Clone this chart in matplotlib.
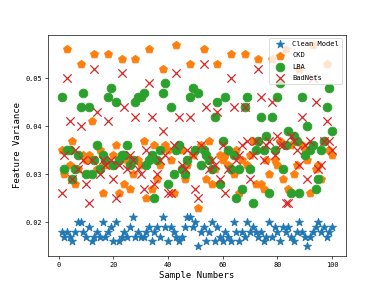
import numpy as np
import matplotlib
matplotlib.use("Agg")
import matplotlib.pyplot as plt

# sample index 1..100
samples = list(range(1, 101))

clean_model = [
    0.018, 0.017, 0.018, 0.017, 0.016, 0.018, 0.020, 0.020, 0.018, 0.017,
    0.019, 0.016, 0.017, 0.018, 0.017, 0.020, 0.017, 0.018, 0.019, 0.016,
    0.020, 0.016, 0.017, 0.018, 0.017, 0.019, 0.021, 0.017, 0.018, 0.017,
    0.017, 0.018, 0.019, 0.016, 0.018, 0.019, 0.017, 0.021, 0.019, 0.016,
    0.019, 0.018, 0.017, 0.016, 0.017, 0.019, 0.021, 0.021, 0.019, 0.020,
    0.015, 0.018, 0.019, 0.016, 0.018, 0.020, 0.016, 0.019, 0.017, 0.016,
    0.018, 0.017, 0.016, 0.020, 0.018, 0.016, 0.018, 0.017, 0.020, 0.018,
    0.019, 0.018, 0.017, 0.018, 0.016, 0.017, 0.020, 0.017, 0.019, 0.018,
    0.016, 0.019, 0.018, 0.019, 0.017, 0.016, 0.018, 0.020, 0.018, 0.017,
    0.015, 0.017, 0.018, 0.019, 0.020, 0.018, 0.019, 0.017, 0.018, 0.019,
]

ckd = [
    0.035, 0.030, 0.056, 0.032, 0.037, 0.028, 0.031, 0.053, 0.034, 0.033,
    0.034, 0.041, 0.055, 0.031, 0.035, 0.026, 0.032, 0.055, 0.032, 0.034,
    0.036, 0.026, 0.054, 0.028, 0.033, 0.027, 0.030, 0.054, 0.033, 0.032,
    0.037, 0.025, 0.056, 0.027, 0.036, 0.029, 0.032, 0.052, 0.036, 0.035,
    0.033, 0.026, 0.057, 0.036, 0.035, 0.029, 0.032, 0.053, 0.034, 0.035,
    0.023, 0.036, 0.056, 0.029, 0.037, 0.028, 0.031, 0.053, 0.034, 0.033,
    0.034, 0.032, 0.055, 0.030, 0.035, 0.026, 0.033, 0.055, 0.032, 0.034,
    0.037, 0.028, 0.054, 0.028, 0.027, 0.033, 0.030, 0.054, 0.033, 0.032,
    0.037, 0.029, 0.056, 0.027, 0.036, 0.030, 0.032, 0.052, 0.036, 0.035,
    0.033, 0.026, 0.057, 0.031, 0.032, 0.029, 0.037, 0.053, 0.035, 0.034,
]

lba = [
    0.046, 0.031, 0.035, 0.035, 0.029, 0.031, 0.034, 0.044, 0.047, 0.030,
    0.044, 0.030, 0.033, 0.036, 0.031, 0.034, 0.033, 0.046, 0.048, 0.032,
    0.045, 0.033, 0.034, 0.034, 0.036, 0.032, 0.033, 0.045, 0.046, 0.046,
    0.047, 0.032, 0.033, 0.034, 0.025, 0.033, 0.035, 0.047, 0.049, 0.028,
    0.044, 0.030, 0.035, 0.036, 0.031, 0.030, 0.033, 0.046, 0.048, 0.035,
    0.047, 0.032, 0.035, 0.034, 0.033, 0.031, 0.042, 0.045, 0.028, 0.037,
    0.046, 0.035, 0.031, 0.034, 0.025, 0.031, 0.027, 0.044, 0.046, 0.031,
    0.024, 0.035, 0.037, 0.042, 0.035, 0.038, 0.026, 0.042, 0.035, 0.046,
    0.049, 0.031, 0.036, 0.039, 0.026, 0.038, 0.037, 0.026, 0.046, 0.034,
    0.040, 0.035, 0.036, 0.027, 0.029, 0.035, 0.037, 0.044, 0.048, 0.039,
]

badnets = [
    0.026, 0.034, 0.050, 0.041, 0.029, 0.035, 0.031, 0.040, 0.033, 0.028,
    0.024, 0.033, 0.052, 0.043, 0.030, 0.033, 0.032, 0.041, 0.033, 0.029,
    0.025, 0.032, 0.051, 0.044, 0.031, 0.034, 0.033, 0.042, 0.031, 0.030,
    0.027, 0.035, 0.049, 0.042, 0.028, 0.030, 0.033, 0.039, 0.034, 0.026,
    0.026, 0.036, 0.051, 0.042, 0.032, 0.031, 0.035, 0.042, 0.034, 0.027,
    0.025, 0.036, 0.053, 0.044, 0.031, 0.033, 0.032, 0.043, 0.029, 0.036,
    0.026, 0.031, 0.050, 0.044, 0.033, 0.034, 0.036, 0.044, 0.037, 0.029,
    0.034, 0.037, 0.052, 0.046, 0.033, 0.036, 0.037, 0.045, 0.034, 0.038,
    0.036, 0.036, 0.024, 0.024, 0.038, 0.037, 0.035, 0.032, 0.042, 0.036,
    0.029, 0.037, 0.050, 0.045, 0.031, 0.032, 0.037, 0.041, 0.037, 0.035,
]

plt.rcParams['font.family'] = ['DejaVu Sans Mono']

fig = plt.figure(figsize=(6.4, 4.8), dpi=60)
ax = plt.gca()

ax.scatter(samples, clean_model, marker='*', s=100, color='C0', label='Clean Model')
ax.scatter(samples, ckd, marker='p', s=100, color='C1', label='CKD')
ax.scatter(samples, lba, marker='o', s=110, color='C2', label='LBA')
ax.scatter(samples, badnets, marker='x', s=100, color='C3', label='BadNets')

ax.set_xlabel('Sample Numbers', fontsize=10.8)
ax.set_ylabel('Feature Variance', fontsize=10.8)
ax.tick_params(labelsize=8.3)
ax.legend(loc='upper right', fontsize=8.6, labelspacing=0.75)

plt.savefig('out.png', dpi=60)
